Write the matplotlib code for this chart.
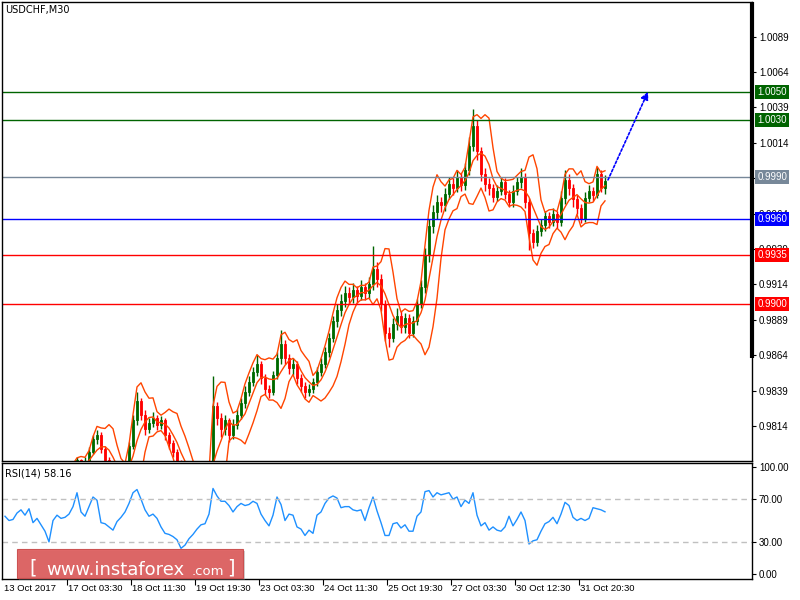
import matplotlib
matplotlib.use("Agg")
import matplotlib.pyplot as plt
import matplotlib.transforms as mtransforms
from matplotlib.patches import FancyBboxPatch
import numpy as np
import pandas as pd

# USDCHF M30, one candle per 2 hours; prices in 1/10000 (9832 -> 0.9832)
first_open = 9774
close = [9772, 9770, 9774, 9776, 9773, 9777, 9780, 9778, 9775, 9779,
         9782, 9780, 9776, 9778, 9781, 9779, 9783, 9786, 9790, 9787,
         9789, 9796, 9805, 9808, 9798, 9790, 9784, 9780, 9778, 9782,
         9786, 9800, 9818, 9832, 9822, 9812, 9816, 9820, 9815, 9818,
         9808, 9802, 9796, 9788, 9782, 9778, 9776, 9774, 9773, 9775,
         9778, 9780, 9828, 9820, 9812, 9818, 9808, 9815, 9822, 9830,
         9838, 9845, 9852, 9858, 9848, 9840, 9838, 9850, 9862, 9872,
         9862, 9855, 9858, 9848, 9842, 9838, 9840, 9845, 9852, 9858,
         9866, 9876, 9888, 9896, 9902, 9908, 9905, 9910, 9906, 9912,
         9908, 9914, 9925, 9918, 9900, 9880, 9876, 9886, 9892, 9884,
         9890, 9880, 9888, 9900, 9912, 9935, 9955, 9965, 9972, 9970,
         9978, 9985, 9982, 9990, 9984, 9995, 10012, 10026, 10008, 9992,
         9985, 9982, 9976, 9980, 9986, 9978, 9972, 9980, 9986, 9990,
         9972, 9950, 9944, 9952, 9956, 9962, 9958, 9964, 9958, 9975,
         9988, 9982, 9974, 9968, 9960, 9975, 9980, 9977, 9992, 9982,
         9987]
high = [9777, 9774, 9776, 9779, 9778, 9780, 9783, 9782, 9780, 9781,
        9785, 9784, 9782, 9781, 9784, 9783, 9786, 9789, 9792, 9791,
        9792, 9799, 9808, 9811, 9810, 9800, 9792, 9786, 9782, 9785,
        9789, 9803, 9822, 9838, 9834, 9825, 9820, 9824, 9822, 9821,
        9820, 9810, 9804, 9798, 9790, 9784, 9780, 9778, 9776, 9778,
        9780, 9782, 9849, 9831, 9823, 9822, 9820, 9819, 9826, 9834,
        9842, 9849, 9856, 9864, 9860, 9851, 9843, 9853, 9866, 9882,
        9875, 9865, 9862, 9860, 9851, 9845, 9844, 9848, 9856, 9862,
        9870, 9880, 9892, 9900, 9907, 9913, 9912, 9915, 9913, 9917,
        9915, 9919, 9941, 9930, 9921, 9903, 9884, 9890, 9897, 9895,
        9894, 9893, 9892, 9904, 9917, 9940, 9960, 9970, 9977, 9976,
        9982, 9990, 9989, 9995, 9993, 10000, 10018, 10038, 10030, 10011,
        9996, 9989, 9985, 9984, 9990, 9989, 9981, 9984, 9990, 9996,
        9993, 9975, 9953, 9956, 9960, 9966, 9965, 9968, 9966, 9980,
        9995, 9992, 9985, 9977, 9971, 9979, 9984, 9983, 9997, 9995,
        9991]
low = [9769, 9767, 9768, 9772, 9771, 9771, 9775, 9775, 9772, 9773,
       9777, 9777, 9773, 9774, 9776, 9776, 9777, 9781, 9784, 9784,
       9785, 9787, 9794, 9801, 9795, 9787, 9781, 9777, 9775, 9776,
       9780, 9784, 9798, 9815, 9818, 9808, 9809, 9813, 9811, 9812,
       9804, 9798, 9792, 9785, 9779, 9775, 9773, 9771, 9770, 9771,
       9773, 9776, 9778, 9815, 9806, 9808, 9803, 9805, 9812, 9819,
       9827, 9835, 9842, 9849, 9844, 9836, 9834, 9836, 9847, 9858,
       9858, 9851, 9850, 9844, 9838, 9834, 9835, 9837, 9842, 9849,
       9855, 9863, 9873, 9884, 9892, 9898, 9900, 9901, 9901, 9903,
       9903, 9904, 9910, 9912, 9895, 9874, 9870, 9873, 9882, 9880,
       9880, 9876, 9877, 9885, 9897, 9908, 9930, 9950, 9960, 9965,
       9966, 9974, 9977, 9979, 9980, 9981, 9991, 10008, 10002, 9987,
       9980, 9977, 9972, 9973, 9977, 9974, 9969, 9969, 9977, 9982,
       9968, 9938, 9940, 9941, 9948, 9952, 9954, 9955, 9954, 9955,
       9971, 9977, 9969, 9964, 9957, 9958, 9972, 9973, 9975, 9979,
       9978]
rsi = [54, 50, 51, 57, 60, 55, 61, 48, 52, 46,
       40, 30, 50, 55, 52, 53, 56, 63, 76, 58,
       54, 63, 72, 69, 48, 47, 44, 41, 49, 53,
       58, 66, 76, 79, 70, 60, 54, 56, 52, 44,
       38, 37, 35, 32, 24, 27, 33, 37, 42, 46,
       47, 56, 80, 73, 68, 68, 64, 58, 63, 66,
       64, 65, 68, 66, 56, 50, 45, 55, 72, 65,
       50, 56, 55, 44, 42, 36, 41, 38, 55, 58,
       66, 71, 73, 71, 62, 63, 63, 60, 59, 60,
       50, 62, 72, 59, 48, 36, 36, 47, 48, 43,
       46, 40, 40, 54, 58, 77, 78, 72, 76, 74,
       75, 76, 70, 72, 63, 69, 66, 76, 55, 45,
       48, 41, 44, 41, 40, 44, 54, 45, 51, 58,
       50, 28, 31, 32, 40, 47, 49, 53, 47, 56,
       67, 64, 53, 50, 52, 50, 52, 62, 61, 60,
       58.16]

levels = [10050, 10030, 9990, 9960, 9935, 9900]
level_colors = ['#006400', '#006400', '#778899', '#0000FF', '#FF0000', '#FF0000']
price_ticks = [1.0089, 1.0064, 1.0039, 1.0014, 0.9989, 0.9964, 0.9939,
               0.9914, 0.9889, 0.9864, 0.9839, 0.9814]
rsi_ticks = [0, 30, 70, 100]
date_labels = ['13 Oct 2017', '17 Oct 03:30', '18 Oct 11:30', '19 Oct 19:30',
               '23 Oct 03:30', '24 Oct 11:30', '25 Oct 19:30', '27 Oct 03:30',
               '30 Oct 12:30', '31 Oct 20:30']
target = 10050

c = np.array(close) / 1e4
h = np.array(high) / 1e4
l = np.array(low) / 1e4
o = np.concatenate([[first_open / 1e4], c[:-1]])
x = np.arange(len(c))

# bollinger bands on the closes
s = pd.Series(c)
mid = s.rolling(5).mean()
sd = s.rolling(5).std(ddof=0)
upper = mid + 2 * sd
lower = mid - 2 * sd

plt.rcParams['font.family'] = 'DejaVu Sans'
small = 'Liberation Sans'
fig = plt.figure(figsize=(8, 6), dpi=100)
ax = fig.add_axes([2 / 800, 1 - 461 / 600, 750 / 800, 459 / 600])
ax2 = fig.add_axes([2 / 800, 1 - 579 / 600, 750 / 800, 116 / 600], sharex=ax)

ax.set_xlim(-0.75, 186.75)
ax.set_ylim(0.97893, 1.01134)

up = c >= o
ax.vlines(x[up], l[up], h[up], color='#006400', lw=1)
ax.vlines(x[~up], l[~up], h[~up], color='#FF0000', lw=1)
ax.bar(x[up], c[up] - o[up], bottom=o[up], width=0.5, color='#00FF00',
       edgecolor='#006400', lw=0.6)
ax.bar(x[~up], o[~up] - c[~up], bottom=c[~up], width=0.5, color='#FF0000',
       edgecolor='#FF0000', lw=0.6)

for band in (upper, mid, lower):
    ax.plot(x, band, color='#FF4500', lw=1)

trans = mtransforms.blended_transform_factory(ax.transAxes, ax.transData)
for lv, col in zip(levels, level_colors):
    ax.axhline(lv / 1e4, color=col, lw=1)
    ax.text(1.007, lv / 1e4, f'{lv / 1e4:.4f}', transform=trans, va='center',
            ha='left', color='white', fontsize=7, family=small, zorder=6,
            clip_on=False,
            bbox=dict(boxstyle='square,pad=0.2', fc=col, ec='none'))

ax.annotate('', xy=(160.75, target / 1e4), xytext=(150.75, 0.99878),
            arrowprops=dict(arrowstyle='-|>', color='#0000FF', lw=1.2,
                            linestyle=(0, (1.5, 1.2)), mutation_scale=11,
                            shrinkA=0, shrinkB=0))

ax.yaxis.tick_right()
ax.set_yticks(price_ticks)
# the 0.9989 label sits fully under the grey 0.9990 marker
ax.set_yticklabels(['' if abs(t - 0.9989) < 1e-6 else f'{t:.4f}' for t in price_ticks],
                   family=small)
ax.tick_params(axis='y', direction='out', length=3, pad=2, labelsize=7)
ax.tick_params(axis='x', bottom=False, labelbottom=False)
ax.plot([1, 1], [0.224, 1], transform=ax.transAxes, lw=3, color='black',
        clip_on=False, solid_capstyle='butt')
ax.text(0.004, 0.993, 'USDCHF,M30', transform=ax.transAxes, fontsize=7, va='top')

# RSI panel
ax2.plot(x, rsi, color='#1E90FF', lw=1)
ax2.axhline(70, color='#C0C0C0', lw=1, ls=(0, (4, 3)))
ax2.axhline(30, color='#C0C0C0', lw=1, ls=(0, (4, 3)))
ax2.set_ylim(-4.7, 103.8)
ax2.yaxis.tick_right()
ax2.set_yticks(rsi_ticks)
ax2.set_yticklabels([f'{t:.2f}' for t in rsi_ticks], family=small)
ax2.tick_params(axis='y', direction='out', length=3, pad=2, labelsize=7)
ax2.text(0.004, 0.95, f'RSI(14) {rsi[-1]:.2f}', transform=ax2.transAxes,
         fontsize=7, va='top')

tick_pos = [15.5 + 16 * k for k in range(len(date_labels) - 1)]
ax2.set_xticks(tick_pos)
ax2.tick_params(axis='x', direction='out', length=4, labelbottom=False)
trans2 = mtransforms.blended_transform_factory(ax2.transData, ax2.transAxes)
for pos, lab in zip([-0.25] + [p + 0.3 for p in tick_pos], date_labels):
    ax2.text(pos, -0.085, lab, transform=trans2, fontsize=6.8, family=small,
             ha='left', va='center', clip_on=False)

for a in (ax, ax2):
    for sp in a.spines.values():
        sp.set_color('black')
        sp.set_linewidth(1)

# watermark
shadow = FancyBboxPatch((19 / 800, 1 - 580 / 600), 226 / 800, 29 / 600,
                        boxstyle='square,pad=0', transform=fig.transFigure,
                        fc='#808080', ec='none', alpha=0.35)
box = FancyBboxPatch((17 / 800, 1 - 578 / 600), 226 / 800, 29 / 600,
                     boxstyle='square,pad=0', transform=fig.transFigure,
                     fc='#DE5A5A', ec='#C84848', lw=0.8, alpha=0.9)
fig.add_artist(shadow)
fig.add_artist(box)
base = 1 - 575 / 600
fig.text(29 / 800, base + 0.002, '[', color='white', fontsize=14, va='baseline')
fig.text(46 / 800, base, 'www.instaforex', color='white', fontsize=13, va='baseline')
fig.text(192 / 800, base, '.com', color='white', fontsize=9.5, va='baseline')
fig.text(227 / 800, base + 0.002, ']', color='white', fontsize=14, va='baseline')

fig.savefig('out.png', dpi=100)
